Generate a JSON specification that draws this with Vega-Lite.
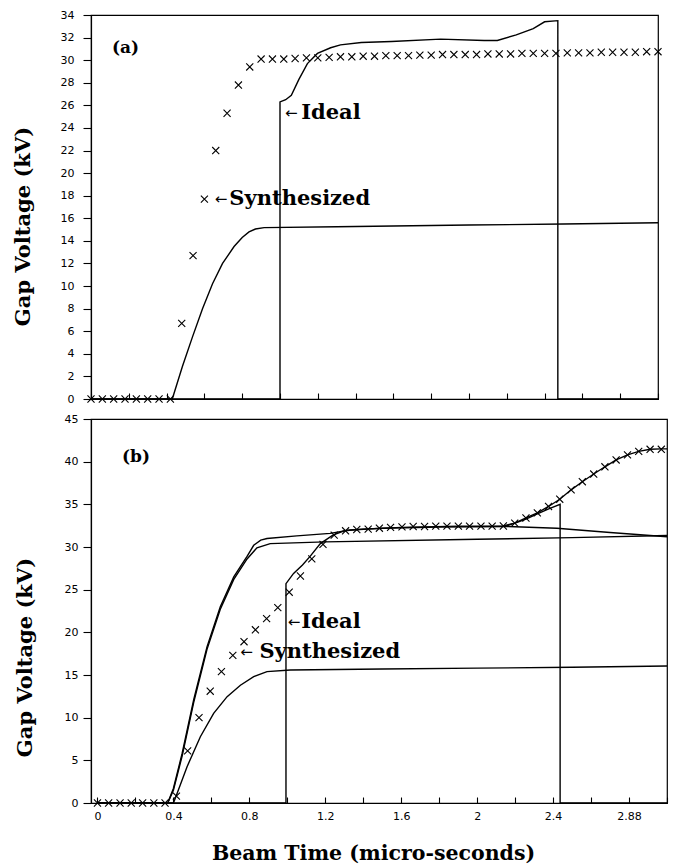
{
  "$schema": "https://vega.github.io/schema/vega-lite/v6.json",
  "autosize": {"type": "none"},
  "padding": {"left": 91, "top": 15, "right": 590, "bottom": 849},
  "background": "white",
  "spacing": 20,
  "bounds": "flush",
  "config": {
    "view": {"stroke": "black", "strokeWidth": 1.2},
    "axis": {"domainColor": "black", "domainWidth": 1.2, "tickColor": "black", "tickWidth": 1.1, "labelColor": "black", "titleColor": "black", "grid": false, "labelFont": "DejaVu Sans", "labelFontSize": 11, "titleFont": "DejaVu Serif", "titleFontWeight": "bold", "titleFontSize": 21}
  },
  "datasets": {
    "a_lines": [
      {"s":"low","t":0,"v":0},{"s":"low","t":0.43,"v":0},{"s":"low","t":0.484,"v":2.9},{"s":"low","t":0.537,"v":5.5},{"s":"low","t":0.59,"v":8.0},{"s":"low","t":0.643,"v":10.2},{"s":"low","t":0.696,"v":12.0},{"s":"low","t":0.757,"v":13.5},{"s":"low","t":0.8,"v":14.3},{"s":"low","t":0.836,"v":14.8},{"s":"low","t":0.87,"v":15.05},{"s":"low","t":0.916,"v":15.17},{"s":"low","t":1.3,"v":15.25},{"s":"low","t":2.0,"v":15.4},{"s":"low","t":2.5,"v":15.5},{"s":"low","t":3.0,"v":15.6},
      {"s":"ideal","t":0,"v":0},{"s":"ideal","t":1.0,"v":0},{"s":"ideal","t":1.0,"v":26.3},{"s":"ideal","t":1.03,"v":26.5},{"s":"ideal","t":1.06,"v":26.9},{"s":"ideal","t":1.1,"v":28.3},{"s":"ideal","t":1.145,"v":29.7},{"s":"ideal","t":1.198,"v":30.6},{"s":"ideal","t":1.268,"v":31.1},{"s":"ideal","t":1.32,"v":31.35},{"s":"ideal","t":1.43,"v":31.56},{"s":"ideal","t":1.59,"v":31.65},{"s":"ideal","t":1.85,"v":31.86},{"s":"ideal","t":2.08,"v":31.74},{"s":"ideal","t":2.15,"v":31.74},{"s":"ideal","t":2.25,"v":32.24},{"s":"ideal","t":2.34,"v":32.8},{"s":"ideal","t":2.4,"v":33.4},{"s":"ideal","t":2.47,"v":33.5},{"s":"ideal","t":2.47,"v":0},{"s":"ideal","t":3.0,"v":0}
    ],
    "a_syn": [
      {"t":0,"v":0},{"t":0.06,"v":0},{"t":0.12,"v":0},{"t":0.18,"v":0},{"t":0.24,"v":0},{"t":0.3,"v":0},{"t":0.36,"v":0},{"t":0.42,"v":0},
      {"t":0.48,"v":6.7},{"t":0.54,"v":12.7},{"t":0.6,"v":17.7},{"t":0.66,"v":22.0},{"t":0.72,"v":25.3},{"t":0.78,"v":27.8},{"t":0.84,"v":29.4},{"t":0.9,"v":30.1},
      {"t":0.96,"v":30.1},{"t":1.02,"v":30.1},{"t":1.08,"v":30.15},{"t":1.14,"v":30.2},{"t":1.2,"v":30.2},{"t":1.26,"v":30.25},{"t":1.32,"v":30.3},{"t":1.38,"v":30.3},{"t":1.44,"v":30.35},{"t":1.5,"v":30.35},
      {"t":1.56,"v":30.4},{"t":1.62,"v":30.4},{"t":1.68,"v":30.4},{"t":1.74,"v":30.45},{"t":1.8,"v":30.45},{"t":1.86,"v":30.5},{"t":1.92,"v":30.5},{"t":1.98,"v":30.5},{"t":2.04,"v":30.5},{"t":2.1,"v":30.55},
      {"t":2.16,"v":30.55},{"t":2.22,"v":30.55},{"t":2.28,"v":30.6},{"t":2.34,"v":30.6},{"t":2.4,"v":30.6},{"t":2.46,"v":30.6},{"t":2.52,"v":30.65},{"t":2.58,"v":30.65},{"t":2.64,"v":30.65},{"t":2.7,"v":30.7},
      {"t":2.76,"v":30.7},{"t":2.82,"v":30.7},{"t":2.88,"v":30.7},{"t":2.94,"v":30.75},{"t":3.0,"v":30.75}
    ],
    "a_labels": [
      {"k":"tag","t":0.111,"v":31.08,"txt":"(a)"},
      {"k":"arrow","t":1.06,"v":25.3,"txt":"←"},
      {"k":"word","t":1.112,"v":25.3,"txt":"Ideal"},
      {"k":"arrow","t":0.688,"v":17.7,"txt":"←"},
      {"k":"word","t":0.732,"v":17.7,"txt":"Synthesized"}
    ],
    "b_lines": [
      {"s":"low","t":0,"v":0},{"s":"low","t":0.4,"v":0},{"s":"low","t":0.41,"v":0.55},{"s":"low","t":0.472,"v":4.25},{"s":"low","t":0.542,"v":7.77},{"s":"low","t":0.612,"v":10.5},{"s":"low","t":0.683,"v":12.46},{"s":"low","t":0.753,"v":13.8},{"s":"low","t":0.823,"v":14.8},{"s":"low","t":0.893,"v":15.39},{"s":"low","t":1.016,"v":15.59},{"s":"low","t":1.5,"v":15.7},{"s":"low","t":2.0,"v":15.8},{"s":"low","t":2.5,"v":15.9},{"s":"low","t":3.0,"v":16.05},
      {"s":"A","t":0,"v":0},{"s":"A","t":0.37,"v":0},{"s":"A","t":0.4,"v":1.7},{"s":"A","t":0.446,"v":5.8},{"s":"A","t":0.507,"v":12.1},{"s":"A","t":0.577,"v":18.3},{"s":"A","t":0.647,"v":23.0},{"s":"A","t":0.718,"v":26.5},{"s":"A","t":0.788,"v":28.9},{"s":"A","t":0.823,"v":30.2},{"s":"A","t":0.86,"v":30.8},{"s":"A","t":0.893,"v":31.0},{"s":"A","t":1.05,"v":31.3},{"s":"A","t":1.226,"v":31.6},{"s":"A","t":1.33,"v":32.0},{"s":"A","t":1.5,"v":32.2},{"s":"A","t":1.8,"v":32.35},{"s":"A","t":2.156,"v":32.4},{"s":"A","t":2.42,"v":32.2},{"s":"A","t":2.7,"v":31.7},{"s":"A","t":3.0,"v":31.2},
      {"s":"B","t":0,"v":0},{"s":"B","t":0.37,"v":0},{"s":"B","t":0.4,"v":1.5},{"s":"B","t":0.446,"v":5.5},{"s":"B","t":0.507,"v":11.8},{"s":"B","t":0.577,"v":18.0},{"s":"B","t":0.647,"v":22.7},{"s":"B","t":0.718,"v":26.2},{"s":"B","t":0.788,"v":28.6},{"s":"B","t":0.84,"v":29.9},{"s":"B","t":0.91,"v":30.4},{"s":"B","t":1.2,"v":30.6},{"s":"B","t":2.0,"v":30.9},{"s":"B","t":2.5,"v":31.1},{"s":"B","t":3.0,"v":31.35},
      {"s":"ideal","t":0,"v":0},{"s":"ideal","t":0.993,"v":0},{"s":"ideal","t":0.993,"v":25.7},{"s":"ideal","t":1.033,"v":26.9},{"s":"ideal","t":1.08,"v":27.9},{"s":"ideal","t":1.12,"v":28.9},{"s":"ideal","t":1.174,"v":30.4},{"s":"ideal","t":1.24,"v":31.4},{"s":"ideal","t":1.3,"v":31.9},{"s":"ideal","t":1.4,"v":32.1},{"s":"ideal","t":1.6,"v":32.3},{"s":"ideal","t":1.9,"v":32.45},{"s":"ideal","t":2.15,"v":32.45},{"s":"ideal","t":2.2,"v":32.8},{"s":"ideal","t":2.26,"v":33.3},{"s":"ideal","t":2.32,"v":33.9},{"s":"ideal","t":2.38,"v":34.5},{"s":"ideal","t":2.437,"v":35.0},{"s":"ideal","t":2.437,"v":0},{"s":"ideal","t":3.0,"v":0},
      {"s":"syn","t":2.138,"v":32.46},{"s":"syn","t":2.198,"v":32.8},{"s":"syn","t":2.257,"v":33.4},{"s":"syn","t":2.317,"v":34.0},{"s":"syn","t":2.376,"v":34.75},{"s":"syn","t":2.435,"v":35.6},{"s":"syn","t":2.495,"v":36.7},{"s":"syn","t":2.554,"v":37.65},{"s":"syn","t":2.614,"v":38.55},{"s":"syn","t":2.673,"v":39.4},{"s":"syn","t":2.732,"v":40.2},{"s":"syn","t":2.792,"v":40.8},{"s":"syn","t":2.851,"v":41.2},{"s":"syn","t":2.911,"v":41.45},{"s":"syn","t":2.97,"v":41.5},{"s":"syn","t":3.0,"v":41.5}
    ],
    "b_syn": [
      {"t":0,"v":0},{"t":0.059,"v":0},{"t":0.119,"v":0},{"t":0.178,"v":0},{"t":0.238,"v":0},{"t":0.297,"v":0},{"t":0.356,"v":0},{"t":0.416,"v":0.8},
      {"t":0.475,"v":6.1},{"t":0.535,"v":10.0},{"t":0.594,"v":13.1},{"t":0.653,"v":15.4},{"t":0.713,"v":17.3},{"t":0.772,"v":18.9},{"t":0.832,"v":20.3},{"t":0.891,"v":21.6},{"t":0.95,"v":22.9},
      {"t":1.01,"v":24.7},{"t":1.069,"v":26.6},{"t":1.129,"v":28.6},{"t":1.188,"v":30.3},{"t":1.247,"v":31.4},{"t":1.307,"v":31.9},{"t":1.366,"v":32.05},{"t":1.426,"v":32.1},{"t":1.485,"v":32.2},
      {"t":1.544,"v":32.3},{"t":1.604,"v":32.35},{"t":1.663,"v":32.4},{"t":1.723,"v":32.4},{"t":1.782,"v":32.45},{"t":1.841,"v":32.45},{"t":1.901,"v":32.45},{"t":1.96,"v":32.45},{"t":2.02,"v":32.45},{"t":2.079,"v":32.45},
      {"t":2.138,"v":32.46},{"t":2.198,"v":32.8},{"t":2.257,"v":33.4},{"t":2.317,"v":34.0},{"t":2.376,"v":34.75},{"t":2.435,"v":35.6},{"t":2.495,"v":36.7},{"t":2.554,"v":37.65},{"t":2.614,"v":38.55},{"t":2.673,"v":39.4},
      {"t":2.732,"v":40.2},{"t":2.792,"v":40.8},{"t":2.851,"v":41.2},{"t":2.911,"v":41.45},{"t":2.97,"v":41.45}
    ],
    "b_labels": [
      {"k":"tag","t":0.129,"v":40.55,"txt":"(b)"},
      {"k":"arrow","t":1.035,"v":21.25,"txt":"←"},
      {"k":"word","t":1.073,"v":21.25,"txt":"Ideal"},
      {"k":"arrow","t":0.785,"v":17.7,"txt":"←"},
      {"k":"word","t":0.853,"v":17.7,"txt":"Synthesized"}
    ]
  },
  "vconcat": [
    {
      "width": 567,
      "height": 384,
      "encoding": {
        "x": {"field": "t", "type": "quantitative", "scale": {"domain": [0, 3], "nice": false, "zero": false},
              "axis": {"title": null, "values": [0,0.2,0.4,0.6,0.8,1,1.2,1.4,1.6,1.8,2,2.2,2.4,2.6,2.8,3], "labels": false, "tickSize": -6}},
        "y": {"field": "v", "type": "quantitative", "scale": {"domain": [0, 34], "nice": false},
              "axis": {"title": "Gap Voltage (kV)", "values": [0,2,4,6,8,10,12,14,16,18,20,22,24,26,28,30,32,34], "tickSize": 8, "labelPadding": 9, "titleX": -68, "titleY": 211, "titleAngle": -90, "titleAlign": "center", "titleBaseline": "middle"}}
      },
      "layer": [
        {"data": {"name": "a_lines"}, "mark": {"type": "line", "color": "black", "strokeWidth": 1.4}, "encoding": {"detail": {"field": "s"}, "order": {"value": null}}},
        {"data": {"name": "a_syn"}, "mark": {"type": "point", "shape": "M-1,-1L1,1M1,-1L-1,1", "filled": false, "stroke": "black", "strokeWidth": 1.1, "size": 50, "opacity": 1}},
        {"data": {"name": "a_labels"}, "transform": [{"filter": "datum.k == 'word'"}], "mark": {"type": "text", "font": "DejaVu Serif", "fontWeight": "bold", "fontSize": 21, "align": "left", "baseline": "middle", "color": "black"}, "encoding": {"text": {"field": "txt"}}},
        {"data": {"name": "a_labels"}, "transform": [{"filter": "datum.k == 'arrow'"}], "mark": {"type": "text", "font": "DejaVu Sans", "fontSize": 15, "align": "center", "baseline": "middle", "color": "black"}, "encoding": {"text": {"field": "txt"}}},
        {"data": {"name": "a_labels"}, "transform": [{"filter": "datum.k == 'tag'"}], "mark": {"type": "text", "font": "DejaVu Serif", "fontWeight": "bold", "fontSize": 17, "align": "left", "baseline": "middle", "color": "black"}, "encoding": {"text": {"field": "txt"}}}
      ]
    },
    {
      "width": 576,
      "height": 384,
      "encoding": {
        "x": {"field": "t", "type": "quantitative", "scale": {"domain": [-0.034, 3], "nice": false, "zero": false},
              "axis": {"title": "Beam Time (micro-seconds)", "values": [0,0.2,0.4,0.6,0.8,1,1.2,1.4,1.6,1.8,2,2.2,2.4,2.6,2.8,3], "tickSize": -6, "labelPadding": 13,
                       "labelExpr": "datum.value == 2.8 ? '2.88' : (round(datum.value*10) % 4 == 0 ? format(datum.value, '~g') : '')",
                       "titleFontSize": 20.5, "titleX": 282, "titleY": 50, "titleAlign": "center", "titleBaseline": "middle"}},
        "y": {"field": "v", "type": "quantitative", "scale": {"domain": [0, 45], "nice": false},
              "axis": {"title": "Gap Voltage (kV)", "values": [0,5,10,15,20,25,30,35,40,45], "tickSize": 8, "labelPadding": 5, "titleX": -66, "titleY": 238, "titleAngle": -90, "titleAlign": "center", "titleBaseline": "middle"}}
      },
      "layer": [
        {"data": {"name": "b_lines"}, "mark": {"type": "line", "color": "black", "strokeWidth": 1.4}, "encoding": {"detail": {"field": "s"}, "order": {"value": null}}},
        {"data": {"name": "b_syn"}, "mark": {"type": "point", "shape": "M-1,-1L1,1M1,-1L-1,1", "filled": false, "stroke": "black", "strokeWidth": 1.1, "size": 50, "opacity": 1}},
        {"data": {"name": "b_labels"}, "transform": [{"filter": "datum.k == 'word'"}], "mark": {"type": "text", "font": "DejaVu Serif", "fontWeight": "bold", "fontSize": 21, "align": "left", "baseline": "middle", "color": "black"}, "encoding": {"text": {"field": "txt"}}},
        {"data": {"name": "b_labels"}, "transform": [{"filter": "datum.k == 'arrow'"}], "mark": {"type": "text", "font": "DejaVu Sans", "fontSize": 15, "align": "center", "baseline": "middle", "color": "black"}, "encoding": {"text": {"field": "txt"}}},
        {"data": {"name": "b_labels"}, "transform": [{"filter": "datum.k == 'tag'"}], "mark": {"type": "text", "font": "DejaVu Serif", "fontWeight": "bold", "fontSize": 17, "align": "left", "baseline": "middle", "color": "black"}, "encoding": {"text": {"field": "txt"}}}
      ]
    }
  ]
}
